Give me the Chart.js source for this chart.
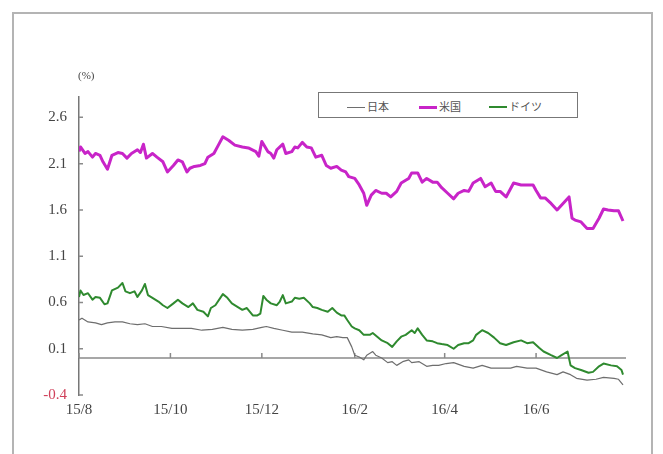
<!DOCTYPE html>
<html>
<head>
<meta charset="utf-8">
<script src="https://cdn.jsdelivr.net/npm/chart.js@4/dist/chart.umd.min.js"></script>
<style>
  html, body { margin: 0; padding: 0; background: #fff; overflow: hidden; }
  #wrap { position: relative; width: 663px; height: 454px; }
  #frame { position: absolute; left: 12px; top: 12px; width: 637px; height: 470px; border: 2px solid #b4b4b4; }
  #chart { position: absolute; left: 0; top: 0; }
  #unit { position: absolute; left: 78px; top: 69px; font: 11px "Liberation Serif", serif; color: #444; }
  #legend { position: absolute; left: 318px; top: 92px; width: 258px; height: 24px; border: 1.5px solid #777;
            background: #fff; font: 11px "Noto Sans CJK JP", sans-serif; color: #555; }
  #legend span.item { position: absolute; top: 5px; white-space: nowrap; }
  #legend i { display: inline-block; width: 18px; vertical-align: middle; margin-right: 2px; position: relative; top: -1px; }
</style>
</head>
<body>
<div id="wrap">
  <div id="frame"></div>
  <canvas id="chart" width="663" height="454"></canvas>
  <div id="unit">(%)</div>
  <div id="legend"></div>
</div>
<script>
const START = '2015-08-01';
const END = '2016-07-31';
const X_TICK_DATES = ['2015-08-01', '2015-10-01', '2015-12-01', '2016-02-01', '2016-04-01', '2016-06-01'];
const X_TICK_LABELS = ['15/8', '15/10', '15/12', '16/2', '16/4', '16/6'];
const Y_TICKS = [-0.4, 0.1, 0.6, 1.1, 1.6, 2.1, 2.6];
const SERIES_NAMES = ['日本', '米国', 'ドイツ'];
const SERIES_COLORS = ['#6e6e6e', '#c824c8', '#2f8a2f'];

// 10年国債利回り (%)
const JP_DATES = ['2015-08-01','2015-08-03','2015-08-07','2015-08-12','2015-08-16','2015-08-20','2015-08-25','2015-08-30',
  '2015-09-04','2015-09-09','2015-09-14','2015-09-19','2015-09-25','2015-10-02','2015-10-09','2015-10-15','2015-10-22',
  '2015-10-29','2015-11-05','2015-11-11','2015-11-18','2015-11-25','2015-12-01','2015-12-04','2015-12-09','2015-12-15',
  '2015-12-21','2015-12-28','2016-01-04','2016-01-10','2016-01-16','2016-01-20','2016-01-24','2016-01-27','2016-01-30',
  '2016-02-01','2016-02-04','2016-02-07','2016-02-09','2016-02-13','2016-02-15','2016-02-19','2016-02-23','2016-02-26',
  '2016-02-29','2016-03-04','2016-03-08','2016-03-10','2016-03-15','2016-03-20','2016-03-24','2016-03-28','2016-04-02',
  '2016-04-07','2016-04-14','2016-04-20','2016-04-26','2016-05-02','2016-05-08','2016-05-15','2016-05-19','2016-05-26',
  '2016-06-01','2016-06-08','2016-06-15','2016-06-19','2016-06-24','2016-06-28','2016-07-05','2016-07-11','2016-07-16',
  '2016-07-23','2016-07-26','2016-07-29'];
const JP_YIELDS = [0.41,0.43,0.39,0.38,0.36,0.38,0.39,0.39,
  0.37,0.36,0.37,0.34,0.34,0.32,0.32,0.32,0.30,
  0.31,0.33,0.31,0.30,0.31,0.33,0.34,0.32,0.30,
  0.28,0.28,0.26,0.25,0.22,0.23,0.22,0.22,0.12,
  0.03,0.01,-0.02,0.03,0.07,0.03,0.00,-0.05,-0.04,
  -0.08,-0.04,-0.02,-0.05,-0.04,-0.09,-0.08,-0.08,-0.06,
  -0.05,-0.09,-0.11,-0.08,-0.11,-0.11,-0.11,-0.09,-0.11,
  -0.11,-0.15,-0.18,-0.15,-0.18,-0.22,-0.24,-0.23,-0.21,
  -0.22,-0.23,-0.29];

const US_DATES = ['2015-08-01','2015-08-02','2015-08-05','2015-08-07','2015-08-10','2015-08-12','2015-08-15','2015-08-17',
  '2015-08-20','2015-08-23','2015-08-27','2015-08-30','2015-09-02','2015-09-05','2015-09-09','2015-09-11','2015-09-13',
  '2015-09-15','2015-09-19','2015-09-22','2015-09-26','2015-09-29','2015-10-03','2015-10-06','2015-10-09','2015-10-12',
  '2015-10-14','2015-10-17','2015-10-21','2015-10-24','2015-10-26','2015-10-30','2015-11-02','2015-11-05','2015-11-09',
  '2015-11-13','2015-11-18','2015-11-22','2015-11-27','2015-11-29','2015-12-01','2015-12-05','2015-12-07','2015-12-09',
  '2015-12-11','2015-12-15','2015-12-17','2015-12-21','2015-12-23','2015-12-25','2015-12-28','2015-12-31','2016-01-03',
  '2016-01-06','2016-01-10','2016-01-13','2016-01-16','2016-01-20','2016-01-23','2016-01-26','2016-01-28','2016-02-01',
  '2016-02-04','2016-02-07','2016-02-09','2016-02-12','2016-02-15','2016-02-19','2016-02-22','2016-02-25','2016-02-29',
  '2016-03-03','2016-03-06','2016-03-08','2016-03-10','2016-03-14','2016-03-17','2016-03-20','2016-03-24','2016-03-27',
  '2016-03-30','2016-04-03','2016-04-07','2016-04-10','2016-04-14','2016-04-17','2016-04-20','2016-04-25','2016-04-28',
  '2016-05-02','2016-05-05','2016-05-08','2016-05-12','2016-05-17','2016-05-22','2016-05-26','2016-05-30','2016-06-01',
  '2016-06-04','2016-06-07','2016-06-11','2016-06-15','2016-06-19','2016-06-23','2016-06-25','2016-06-27','2016-07-01',
  '2016-07-05','2016-07-09','2016-07-13','2016-07-16','2016-07-19','2016-07-23','2016-07-26','2016-07-29'];
const US_YIELDS = [2.23,2.28,2.21,2.23,2.17,2.21,2.19,2.12,
  2.04,2.19,2.22,2.21,2.16,2.21,2.25,2.22,2.31,
  2.16,2.21,2.17,2.12,2.01,2.08,2.14,2.12,2.01,
  2.05,2.07,2.08,2.10,2.17,2.21,2.30,2.39,2.35,
  2.30,2.28,2.27,2.23,2.18,2.34,2.23,2.21,2.16,
  2.25,2.31,2.21,2.23,2.28,2.27,2.33,2.28,2.27,
  2.17,2.19,2.08,2.05,2.07,2.03,2.01,1.96,1.94,
  1.87,1.78,1.65,1.76,1.81,1.78,1.78,1.74,1.80,
  1.89,1.92,1.94,2.00,2.00,1.90,1.94,1.90,1.90,
  1.84,1.78,1.72,1.78,1.81,1.80,1.89,1.94,1.85,
  1.89,1.80,1.80,1.74,1.89,1.87,1.87,1.87,1.81,
  1.73,1.73,1.67,1.60,1.67,1.74,1.51,1.49,1.47,
  1.40,1.40,1.51,1.61,1.60,1.59,1.59,1.48];

const DE_DATES = ['2015-08-01','2015-08-02','2015-08-04','2015-08-07','2015-08-10','2015-08-12','2015-08-15','2015-08-18',
  '2015-08-20','2015-08-23','2015-08-27','2015-08-30','2015-09-01','2015-09-04','2015-09-07','2015-09-09','2015-09-12',
  '2015-09-14','2015-09-16','2015-09-19','2015-09-23','2015-09-26','2015-09-29','2015-10-03','2015-10-06','2015-10-09',
  '2015-10-13','2015-10-16','2015-10-19','2015-10-23','2015-10-26','2015-10-28','2015-10-31','2015-11-05','2015-11-08',
  '2015-11-11','2015-11-15','2015-11-18','2015-11-21','2015-11-25','2015-11-28','2015-11-30','2015-12-02','2015-12-04',
  '2015-12-07','2015-12-11','2015-12-13','2015-12-15','2015-12-17','2015-12-21','2015-12-23','2015-12-26','2015-12-29',
  '2016-01-02','2016-01-04','2016-01-07','2016-01-10','2016-01-14','2016-01-17','2016-01-20','2016-01-23','2016-01-25',
  '2016-01-27','2016-01-30','2016-02-01','2016-02-04','2016-02-07','2016-02-11','2016-02-13','2016-02-16','2016-02-19',
  '2016-02-23','2016-02-26','2016-02-29','2016-03-03','2016-03-06','2016-03-10','2016-03-12','2016-03-14','2016-03-17',
  '2016-03-20','2016-03-24','2016-03-27','2016-03-30','2016-04-03','2016-04-07','2016-04-10','2016-04-14','2016-04-17',
  '2016-04-20','2016-04-22','2016-04-26','2016-04-30','2016-05-04','2016-05-08','2016-05-12','2016-05-17','2016-05-22',
  '2016-05-26','2016-05-30','2016-06-03','2016-06-06','2016-06-11','2016-06-15','2016-06-18','2016-06-22','2016-06-24',
  '2016-06-27','2016-07-01','2016-07-06','2016-07-09','2016-07-13','2016-07-16','2016-07-21','2016-07-25','2016-07-28',
  '2016-07-29'];
const DE_YIELDS = [0.66,0.73,0.68,0.70,0.63,0.66,0.65,0.58,
  0.59,0.73,0.76,0.81,0.72,0.70,0.72,0.66,0.73,
  0.80,0.68,0.65,0.61,0.57,0.54,0.59,0.63,0.59,
  0.55,0.59,0.52,0.50,0.45,0.54,0.57,0.69,0.65,
  0.59,0.55,0.52,0.54,0.46,0.46,0.48,0.67,0.63,
  0.59,0.57,0.61,0.68,0.59,0.61,0.65,0.64,0.65,
  0.59,0.55,0.54,0.52,0.50,0.54,0.49,0.46,0.46,
  0.41,0.34,0.32,0.30,0.25,0.25,0.27,0.23,0.19,
  0.16,0.12,0.18,0.23,0.25,0.30,0.27,0.32,0.25,
  0.19,0.18,0.16,0.15,0.14,0.10,0.14,0.16,0.16,
  0.19,0.25,0.30,0.27,0.22,0.16,0.14,0.17,0.19,
  0.16,0.17,0.11,0.07,0.03,0.00,0.03,0.07,-0.08,
  -0.11,-0.13,-0.16,-0.15,-0.09,-0.06,-0.08,-0.09,-0.13,
  -0.18];

const toDay = d => (Date.parse(d) - Date.parse(START)) / 864e5;
const toPoints = (dates, values) => dates.map((d, i) => ({ x: toDay(d), y: values[i] }));

// legend box (HTML, drawn over the plot like the original)
const LEGEND_LEFT = [28, 100, 170];
const LEGEND_WIDTH = [1.2, 3, 2];
document.getElementById('legend').innerHTML = SERIES_NAMES.map((n, i) =>
  '<span class="item" style="left:' + LEGEND_LEFT[i] + 'px"><i style="border-top:' + LEGEND_WIDTH[i] +
  'px solid ' + SERIES_COLORS[i] + '"></i>' + n + '</span>').join('');

// zero line with month ticks, and inward ticks on the value axis
const axisMarks = {
  id: 'axisMarks',
  beforeDatasetsDraw(chart) {
    const { ctx, chartArea: a, scales: { x, y } } = chart;
    const y0 = y.getPixelForValue(0);
    ctx.save();
    ctx.strokeStyle = '#8a8a8a';
    ctx.lineWidth = 1.5;
    ctx.beginPath();
    ctx.moveTo(a.left, y0);
    ctx.lineTo(a.right, y0);
    x.ticks.forEach(t => {
      const px = x.getPixelForValue(t.value);
      ctx.moveTo(px, y0);
      ctx.lineTo(px, y0 - 5);
    });
    y.ticks.forEach(t => {
      const py = y.getPixelForValue(t.value);
      ctx.moveTo(a.left, py);
      ctx.lineTo(a.left + 4, py);
    });
    ctx.stroke();
    ctx.restore();
  }
};

const tickFont = { family: '"Liberation Serif", "DejaVu Serif", serif', size: 15 };

new Chart(document.getElementById('chart'), {
  type: 'line',
  data: {
    datasets: [
      { label: SERIES_NAMES[0], data: toPoints(JP_DATES, JP_YIELDS), borderColor: SERIES_COLORS[0], borderWidth: 1.2 },
      { label: SERIES_NAMES[1], data: toPoints(US_DATES, US_YIELDS), borderColor: SERIES_COLORS[1], borderWidth: 3 },
      { label: SERIES_NAMES[2], data: toPoints(DE_DATES, DE_YIELDS), borderColor: SERIES_COLORS[2], borderWidth: 2 }
    ]
  },
  options: {
    responsive: false,
    animation: false,
    layout: { padding: { left: 0, right: 37, top: 97, bottom: 0 } },
    elements: { point: { radius: 0 }, line: { tension: 0, borderJoinStyle: 'round' } },
    scales: {
      x: {
        type: 'linear',
        min: toDay(START),
        max: toDay(END),
        grid: { display: false, drawTicks: false },
        border: { display: false },
        afterBuildTicks: s => { s.ticks = X_TICK_DATES.map(d => ({ value: toDay(d) })); },
        afterFit: s => { s.height = 59; },
        ticks: {
          autoSkip: false, maxRotation: 0, padding: 6, color: '#444', font: tickFont,
          callback: (v, i) => X_TICK_LABELS[i]
        }
      },
      y: {
        min: -0.4,
        max: 2.82,
        grid: { display: false, drawTicks: false },
        border: { display: true, color: '#777', width: 1.5 },
        afterBuildTicks: s => { s.ticks = Y_TICKS.map(v => ({ value: v })); },
        afterFit: s => { s.width = 79; },
        ticks: {
          padding: 12, font: tickFont,
          color: c => (c.tick && c.tick.value < 0 ? '#d0405a' : '#444'),
          callback: v => v.toFixed(1)
        }
      }
    },
    plugins: { legend: { display: false }, tooltip: { enabled: false } }
  },
  plugins: [axisMarks]
});
</script>
</body>
</html>
